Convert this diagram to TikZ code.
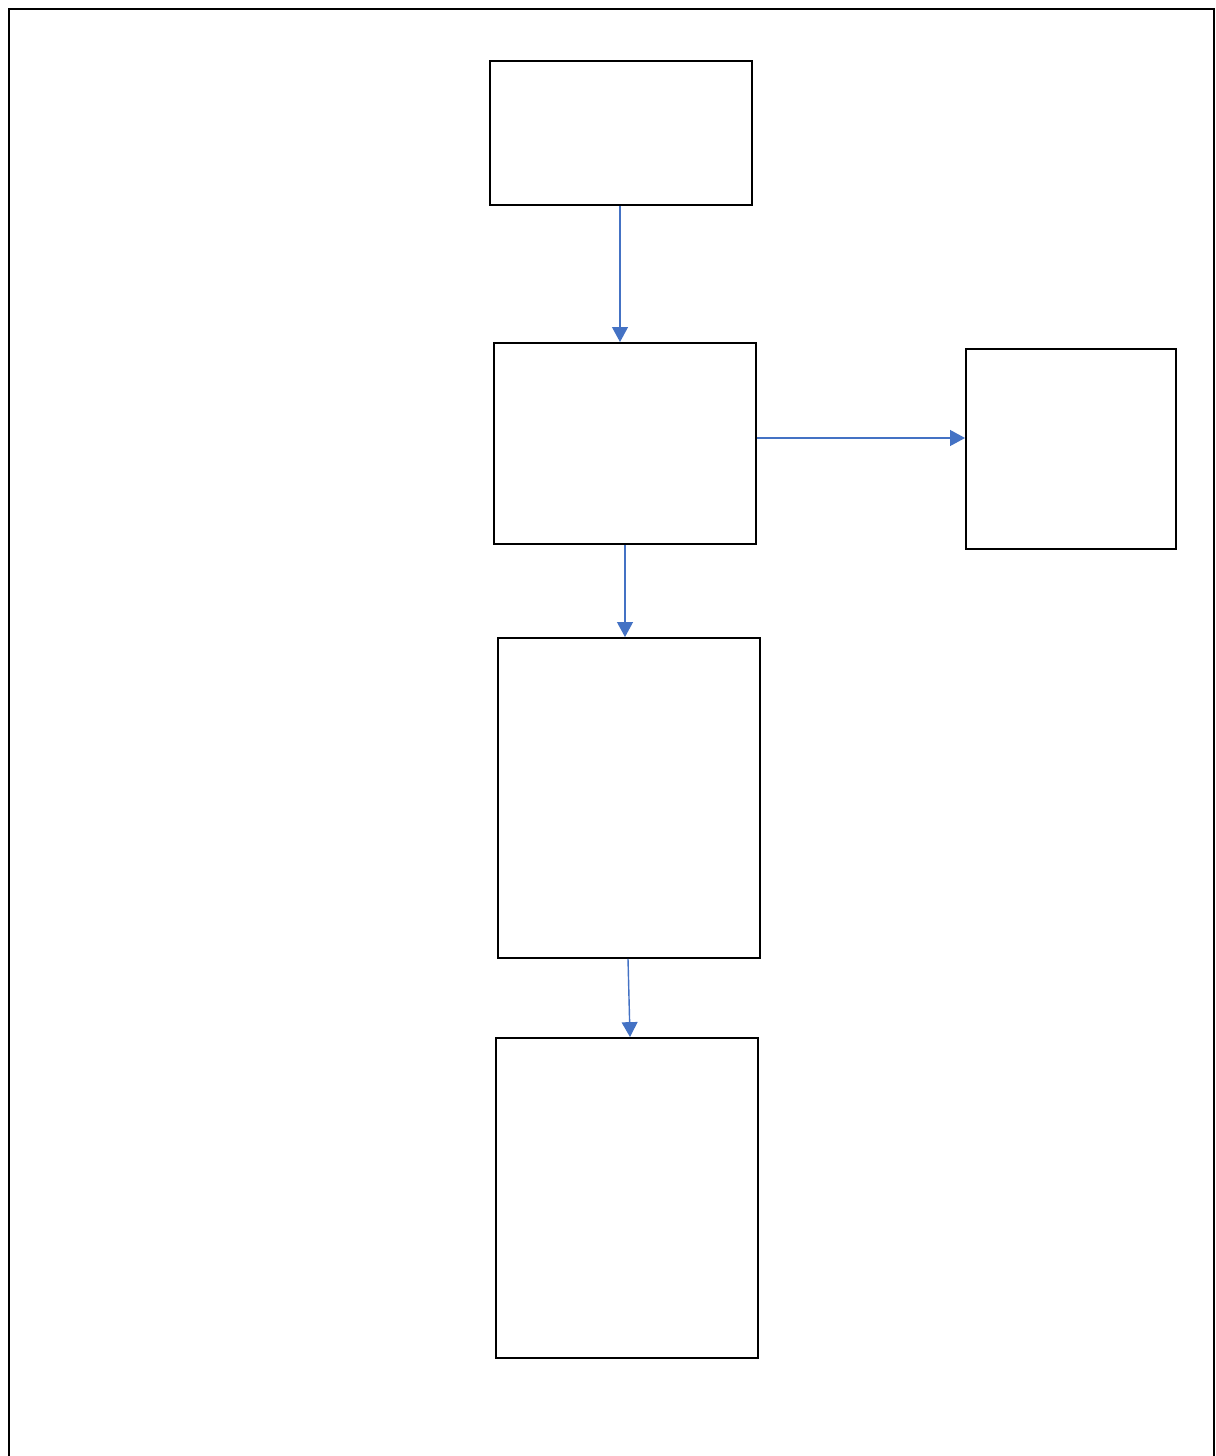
\documentclass[tikz,border=0pt]{standalone}
\usetikzlibrary{arrows.meta}

\tikzset{
  box/.style={draw=black, line width=1.1pt, minimum width=5.24cm, inner sep=0pt},
  flow/.style={draw={rgb,255:red,68;green,114;blue,196}, line width=0.8pt,
    -{Triangle[length=8.5pt,width=9pt]}}
}

\begin{document}
\begin{tikzpicture}[x=0.02cm, y=-0.02cm]

\useasboundingbox (0,0) rectangle (1215,1456);

% open frame, no bottom edge
\draw[line width=1.5pt] (9,1456) -- (9,9) -- (1214,9) -- (1214,1456);

\node[box, minimum height=2.88cm] (first)  at (621,133)   {};
\node[box, minimum height=4.02cm] (second) at (625,443.5) {};
\node[box, minimum width=4.2cm, minimum height=4cm] (side) at (1071,449) {};
\node[box, minimum height=6.4cm]  (third)  at (629,798)   {};
\node[box, minimum height=6.4cm]  (fourth) at (627,1198)  {};

\coordinate (lvl) at (0,438);
\coordinate (col) at (620,0);

\draw[flow] (first.south -| col) -- (second.north -| col);
\draw[flow] (second.east |- lvl) -- (side.west |- lvl);
\draw[flow] (second.south) -- (second.south |- third.north);
\draw[flow] ([xshift=-0.02cm]third.south) -- ([xshift=0.06cm]fourth.north);

\end{tikzpicture}
\end{document}
